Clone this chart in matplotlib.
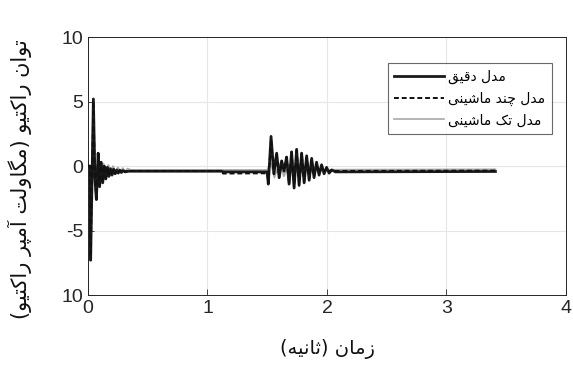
import numpy as np
import matplotlib
matplotlib.use("Agg")
import matplotlib.pyplot as plt

plt.rcParams['font.family'] = ['Liberation Sans', 'DejaVu Sans']

# ---- data ----
t_exact = [0.0, 0.018, 0.022, 0.045, 0.058, 0.07, 0.085, 0.097, 0.11, 0.123, 0.136,
           0.149, 0.162, 0.175, 0.188, 0.201, 0.214, 0.227, 0.24, 0.253, 0.266, 0.279,
           0.292, 0.31, 0.34, 1.12, 1.13, 1.50, 1.509, 1.532, 1.556, 1.579, 1.600, 1.621,
           1.641, 1.662, 1.683, 1.704, 1.725, 1.746, 1.767, 1.788, 1.809, 1.830, 1.851,
           1.872, 1.892, 1.913, 1.934, 1.955, 1.976, 1.997, 2.018, 2.04, 2.07, 3.41]
y_exact = [0.0, 0.0, -7.3, 5.2, -1.0, -2.6, 1.0, -1.6, 0.3, -1.3, 0.0, -1.0, -0.1,
           -0.8, -0.2, -0.7, -0.25, -0.6, -0.3, -0.55, -0.32, -0.5, -0.35, -0.45, -0.4,
           -0.4, -0.45, -0.45, -1.4, 2.3, -0.6, 1.0, -0.9, 0.4, -0.4, 0.7, -1.4, 1.1,
           -1.7, 1.3, -1.5, 1.0, -1.3, 0.8, -1.1, 0.6, -0.9, 0.3, -0.7, 0.1, -0.6, -0.1,
           -0.55, -0.3, -0.45, -0.42]

t_multi = [0.0, 0.018, 0.022, 0.045, 0.058, 0.07, 0.085, 0.097, 0.11, 0.123, 0.136,
           0.149, 0.162, 0.175, 0.188, 0.201, 0.214, 0.227, 0.24, 0.253, 0.266, 0.279,
           0.292, 0.31, 0.34, 1.12, 1.13, 1.50, 1.509, 1.532, 1.556, 1.579, 1.600, 1.621,
           1.641, 1.662, 1.683, 1.704, 1.725, 1.746, 1.767, 1.788, 1.809, 1.830, 1.851,
           1.872, 1.892, 1.913, 1.934, 1.955, 1.976, 1.997, 2.018, 2.04, 2.07, 3.41]
y_multi = [0.0, 0.0, -7.0, 5.0, -1.0, -2.5, 1.0, -1.5, 0.3, -1.2, 0.0, -0.95, -0.1,
           -0.8, -0.2, -0.7, -0.25, -0.6, -0.3, -0.5, -0.32, -0.48, -0.35, -0.42, -0.38,
           -0.38, -0.58, -0.56, -1.3, 2.1, -0.6, 1.0, -0.9, 0.4, -0.4, 0.7, -1.4, 1.1,
           -1.6, 1.2, -1.4, 1.0, -1.2, 0.7, -1.0, 0.5, -0.8, 0.2, -0.6, 0.0, -0.5, -0.15,
           -0.45, -0.3, -0.38, -0.35]

t_single = [0.0, 0.03, 0.05, 0.07, 0.09, 0.11, 0.13, 0.15, 0.17, 0.19, 0.21, 0.23,
            0.25, 0.27, 0.29, 0.31, 0.33, 0.36, 1.50, 1.53, 1.56, 1.60, 1.64, 1.68,
            1.72, 1.76, 1.80, 1.84, 1.88, 1.92, 1.96, 2.0, 3.41]
y_single = [0.0, -0.3, 0.6, -1.2, 0.4, -0.9, 0.2, -0.7, 0.1, -0.6, 0.0, -0.5, -0.1,
            -0.45, -0.15, -0.4, -0.2, -0.3, -0.3, 0.3, -0.9, 0.2, -0.8, 0.1, -0.7,
            0.0, -0.6, -0.1, -0.5, -0.15, -0.4, -0.28, -0.25]

x_ticks = [0, 1, 2, 3, 4]
y_ticks = [-10, -5, 0, 5, 10]
y_tick_labels = ['10', '-5', '0', '5', '10']

legend_labels = ['مدل دقیق', 'مدل چند ماشینی', 'مدل تک ماشینی']
x_label = 'زمان (ثانیه)'
y_label = 'توان راکتیو (مگاولت آمپر راکتیو)'

# ---- minimal persian shaping (matplotlib has no bidi / joining) ----
FORMS = {
    'ا': ('\uFE8D', '\uFE8E', None, None), 'آ': ('\uFE81', '\uFE82', None, None),
    'د': ('\uFEA9', '\uFEAA', None, None), 'ر': ('\uFEAD', '\uFEAE', None, None),
    'ز': ('\uFEAF', '\uFEB0', None, None), 'و': ('\uFEED', '\uFEEE', None, None),
    'ت': ('\uFE95', '\uFE96', '\uFE97', '\uFE98'), 'ث': ('\uFE99', '\uFE9A', '\uFE9B', '\uFE9C'),
    'ش': ('\uFEB5', '\uFEB6', '\uFEB7', '\uFEB8'), 'ق': ('\uFED5', '\uFED6', '\uFED7', '\uFED8'),
    'ل': ('\uFEDD', '\uFEDE', '\uFEDF', '\uFEE0'), 'م': ('\uFEE1', '\uFEE2', '\uFEE3', '\uFEE4'),
    'ن': ('\uFEE5', '\uFEE6', '\uFEE7', '\uFEE8'), 'ه': ('\uFEE9', '\uFEEA', '\uFEEB', '\uFEEC'),
    'پ': ('\uFB56', '\uFB57', '\uFB58', '\uFB59'), 'چ': ('\uFB7A', '\uFB7B', '\uFB7C', '\uFB7D'),
    'ک': ('\uFB8E', '\uFB8F', '\uFB90', '\uFB91'), 'گ': ('\uFB92', '\uFB93', '\uFB94', '\uFB95'),
    'ی': ('\uFBFC', '\uFBFD', '\uFBFE', '\uFBFF'),
}


def fa(s):
    out = []
    for i, c in enumerate(s):
        if c not in FORMS:
            out.append(c)
            continue
        prev = s[i - 1] if i > 0 else ''
        nxt = s[i + 1] if i + 1 < len(s) else ''
        jp = prev in FORMS and FORMS[prev][2] is not None
        jn = FORMS[c][2] is not None and nxt in FORMS
        iso, fin, ini, med = FORMS[c]
        if jp and jn:
            out.append(med)
        elif jp:
            out.append(fin)
        elif jn:
            out.append(ini)
        else:
            out.append(iso)
    vis = ''.join(out)[::-1]
    return vis.translate(str.maketrans('()', ')('))


fig = plt.figure(figsize=(5.73, 3.67), dpi=100)
ax = fig.add_axes([0.1536, 0.196, 0.834, 0.703])

ax.plot(t_exact, y_exact, color='#1a1a1a', lw=2.0, label=fa(legend_labels[0]), zorder=3)
ax.plot(t_multi, y_multi, color='#111111', lw=1.4, ls=(0, (2.5, 1.5)), label=fa(legend_labels[1]), zorder=4)
ax.plot(t_single, y_single, color='#a8a8a8', lw=1.2, label=fa(legend_labels[2]), zorder=2)

ax.set_xlim(0, 4)
ax.set_ylim(-10, 10)
ax.set_xticks(x_ticks)
ax.set_yticks(y_ticks)
ax.set_yticklabels(y_tick_labels)
ax.grid(True, color='#e6e6e6', lw=0.8)
ax.set_axisbelow(True)
ax.tick_params(direction='in', length=4, labelsize=14, colors='#262626', width=0.6)
for sp in ax.spines.values():
    sp.set_color('#262626')
    sp.set_linewidth(0.7)

ax.set_xlabel(fa(x_label), fontsize=14, color='#111111', family=['DejaVu Sans'], labelpad=16)
ax.set_ylabel(fa(y_label), fontsize=15, color='#111111', family=['DejaVu Sans'], labelpad=10)
ax.yaxis.set_label_coords(-0.118, 0.45)

leg = ax.legend(loc='upper right', bbox_to_anchor=(0.985, 0.925), prop={'family': ['DejaVu Sans'], 'size': 10},
                frameon=True, fancybox=False, edgecolor='#444444', handlelength=3.6,
                handletextpad=0.3, borderpad=0.45, labelspacing=0.55)
leg.get_frame().set_linewidth(0.8)

fig.savefig('out.png', dpi=100)
